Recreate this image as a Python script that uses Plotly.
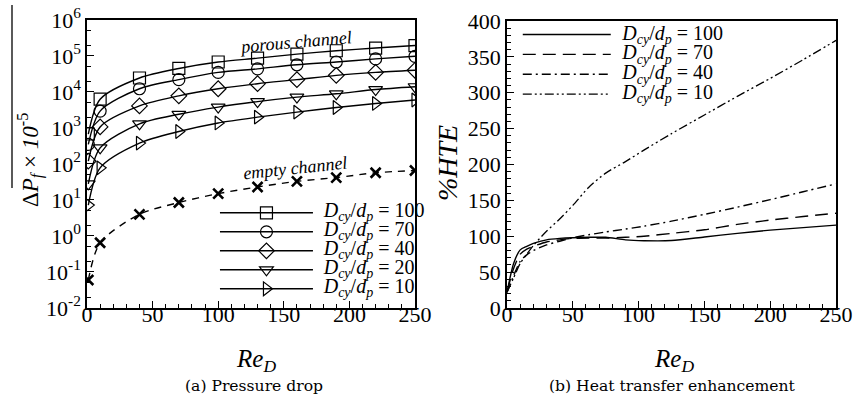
import plotly.graph_objects as go

# ---------------- data: (a) pressure drop ----------------
re_dp = [1, 10, 40, 70, 100, 130, 160, 190, 220, 250]
dp_100 = [680, 6300, 24500, 45000, 68000, 87000, 113000, 140000, 166000, 195000]
dp_70 = [350, 2950, 12300, 22000, 35000, 44000, 57000, 68000, 83000, 98000]
dp_40 = [120, 1070, 4100, 7800, 12300, 17000, 22000, 29000, 35000, 40000]
dp_20 = [28, 280, 1300, 2400, 3800, 5400, 7200, 8900, 11700, 14000]
dp_10 = [7.2, 78, 380, 800, 1380, 2000, 2750, 3700, 4800, 6000]
dp_empty = [0.06, 0.65, 4, 8.5, 15, 23, 33, 42, 57, 66]
dp_tick_vals = [0.01, 0.1, 1, 10, 100, 1000, 10000, 100000, 1000000]
dp_tick_text = ["10<sup>-2</sup>", "10<sup>-1</sup>", "10<sup>0</sup>", "10<sup>1</sup>",
                "10<sup>2</sup>", "10<sup>3</sup>", "10<sup>4</sup>", "10<sup>5</sup>",
                "10<sup>6</sup>"]

# ---------------- data: (b) heat transfer enhancement ----------------
re_hte = [0, 5, 10, 15, 20, 30, 40, 50, 62, 75, 90, 104, 125, 150, 175, 200, 225, 250]
hte_100 = [22, 62, 81, 86, 90, 95, 97, 98, 98.5, 98.5, 95, 93.8, 94, 99, 104, 108.5, 112, 115.5]
hte_70 = [22, 55, 75, 82, 86, 92, 95, 97, 97.5, 97.5, 98.5, 100, 104, 109, 116.5, 122.5, 127.5, 132]
hte_40 = [22, 45, 65, 74, 80, 88, 93, 98, 102, 106, 110, 114, 121, 130.5, 140.5, 151, 162, 173]
hte_10 = [22, 42, 62, 75, 87, 107, 124, 143, 168, 188, 204, 220, 243, 269, 295, 320, 346, 373]

ratio_dp = ["100", "70", "40", "20", "10"]
ratio_hte = ["100", "70", "40", "10"]

FONT = "Liberation Serif, Tinos, Times New Roman, serif"
CAPFONT = "DejaVu Serif, serif"
BLACK = "black"


def lab(v, size):
    return ("&nbsp;&nbsp;<span style='font-size:%dpx'><i>D</i><sub><i>cy</i></sub>/<i>d</i>"
            "<sub><i>p</i></sub> = %s</span>" % (size, v))


fig = go.Figure()

# left panel
dp_series = [dp_100, dp_70, dp_40, dp_20, dp_10]
dp_symbols = ["square-open", "circle-open", "diamond-open", "triangle-down-open", "triangle-right-open"]
for r, ys, sym in zip(ratio_dp, dp_series, dp_symbols):
    fig.add_trace(go.Scatter(
        x=re_dp, y=ys, mode="lines+markers", name=lab(r, 20),
        line=dict(color=BLACK, width=1.4, shape="spline", smoothing=0.8),
        marker=dict(symbol=sym, size=12, color=BLACK, line=dict(width=1.2, color=BLACK)),
        xaxis="x", yaxis="y", legend="legend"))

fig.add_trace(go.Scatter(
    x=re_dp, y=dp_empty, mode="lines+markers", showlegend=False,
    line=dict(color=BLACK, width=1.4, dash="7px,6px", shape="spline", smoothing=0.8),
    marker=dict(symbol="x-thin", size=10, color=BLACK, line=dict(width=2.6, color=BLACK)),
    xaxis="x", yaxis="y"))

# right panel
hte_series = [hte_100, hte_70, hte_40, hte_10]
hte_dash = ["solid", "13px,7px", "9px,4px,2px,4px", "9px,3px,2px,3px,2px,3px"]
hte_width = [1.4, 1.4, 1.4, 1.3]
for r, ys, d, w in zip(ratio_hte, hte_series, hte_dash, hte_width):
    fig.add_trace(go.Scatter(
        x=re_hte, y=ys, mode="lines", name=lab(r, 20),
        line=dict(color=BLACK, width=w, dash=d, shape="spline", smoothing=0.7),
        xaxis="x2", yaxis="y2", legend="legend2"))

tickfont = dict(family=FONT, size=22, color=BLACK)
common_x = dict(range=[0, 250], dtick=50, tick0=0, ticks="inside", ticklen=7, tickwidth=1,
                tickcolor=BLACK, showline=True, linecolor=BLACK, linewidth=1.5, mirror=True,
                showgrid=False, zeroline=False, tickfont=tickfont, automargin=False,
                ticklabelstandoff=-14,
                minor=dict(ticks="inside", ticklen=4, dtick=10, tickcolor=BLACK, showgrid=False))

fig.update_layout(
    width=853, height=399, margin=dict(l=0, r=0, t=0, b=0, autoexpand=False),
    paper_bgcolor="white", plot_bgcolor="white",
    font=dict(family=FONT, color=BLACK),
    xaxis=dict(domain=[0.102, 0.4865], anchor="y", **common_x),
    yaxis=dict(domain=[0.2281, 0.9499], anchor="x", type="log", range=[-2, 6],
               tickvals=dp_tick_vals, ticktext=dp_tick_text,
               ticks="inside", ticklen=7, tickcolor=BLACK, automargin=False,
               showline=True, linecolor=BLACK, linewidth=1.5, mirror=True,
               showgrid=False, zeroline=False, tickfont=tickfont,
               minor=dict(ticks="inside", ticklen=4, tickcolor=BLACK, showgrid=False)),
    xaxis2=dict(domain=[0.5944, 0.9801], anchor="y2", **common_x),
    yaxis2=dict(domain=[0.2281, 0.9474], anchor="x2", range=[0, 400], dtick=50, tick0=0,
                ticks="inside", ticklen=7, tickcolor=BLACK, automargin=False,
                showline=True, linecolor=BLACK, linewidth=1.5, mirror=True,
                showgrid=False, zeroline=False, tickfont=tickfont,
                minor=dict(ticks="inside", ticklen=4, dtick=10, tickcolor=BLACK, showgrid=False)),
    legend=dict(x=0.252, y=0.503, xanchor="left", yanchor="top", bgcolor="rgba(0,0,0,0)",
                font=dict(family=FONT, size=11.5, color=BLACK), itemwidth=93,
                tracegroupgap=0),
    legend2=dict(x=0.607, y=0.951, xanchor="left", yanchor="top", bgcolor="rgba(0,0,0,0)",
                 font=dict(family=FONT, size=13, color=BLACK), itemwidth=88,
                 tracegroupgap=0),
)


def note(text, x, y, size, angle=0, family=FONT):
    return dict(text=text, x=x / 853, y=1 - y / 399, xref="paper", yref="paper",
                xanchor="center", yanchor="middle", showarrow=False, textangle=angle,
                font=dict(size=size, family=family, color=BLACK))


ann = [
    note("<i>porous channel</i>", 295, 42, 18, -5),
    note("<i>empty channel</i>", 295, 168, 18, -6),
    note("Δ<i>P</i><sub><i>f</i></sub> × <i>10</i><sup>-5</sup>", 30, 160, 23, -90),
    note("<i>%HTE</i>", 447, 163, 28, -90),
    note("<i>Re</i><sub><i>D</i></sub>", 256, 360, 25),
    note("<i>Re</i><sub><i>D</i></sub>", 674, 360, 25),
    note("(a) Pressure drop", 254, 386, 15.6, 0, CAPFONT),
    note("(b) Heat transfer enhancement", 672, 386, 15.6, 0, CAPFONT),
]
fig.update_layout(annotations=ann)

# overline of the left axis title
fig.add_shape(type="line", xref="paper", yref="paper", x0=12 / 853, x1=12 / 853,
              y0=1 - 5 / 399, y1=1 - 188 / 399, line=dict(color=BLACK, width=1.3))

fig.write_html("out.html")
